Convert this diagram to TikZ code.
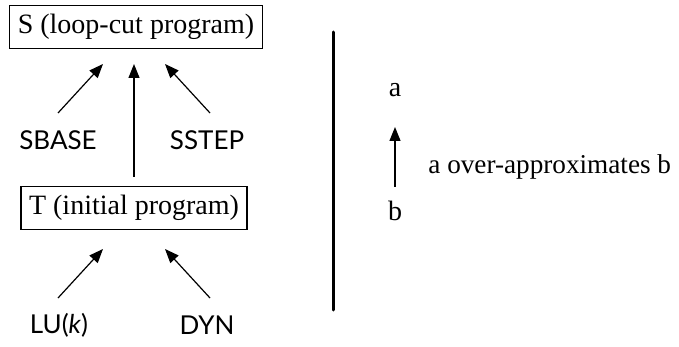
\documentclass[tikz,border=0pt]{standalone}
\usepackage{fontspec}
\setmainfont{Liberation Serif}
\newfontfamily\rulefont{Lato}
\usetikzlibrary{arrows.meta}

\begin{document}
\begin{tikzpicture}[x=0.5pt, y=-0.5pt, font=\fontsize{14}{16}\selectfont,
    prog/.style={draw, line width=0.6pt, inner xsep=4pt, inner ysep=4.5pt},
    rule/.style={font=\fontsize{13}{15}\selectfont\rulefont},
    approx/.style={-{Triangle[length=7pt, width=5.5pt]}, line width=0.6pt}]
  \useasboundingbox (0,0) rectangle (679,347);
  % programs
  \node[prog] (S) at (136,27) {S (loop-cut program)};
  \node[prog] (T) at (134,208) {T (initial program)};
  % rules
  \node[rule] (sbase) at (58,140) {SBASE};
  \node[rule] (sstep) at (207,140) {SSTEP};
  \node[rule] (lu) at (59,325) {LU(\textit{k})};
  \node[rule] (dyn) at (207,325) {DYN};
  \coordinate (sbaseend) at (58,113);
  \coordinate (sstepend) at (210,113);
  \coordinate (luend) at (58,298);
  \coordinate (dynend) at (210,298);
  \coordinate (sbasetip) at (103,64);
  \coordinate (ssteptip) at (165,64);
  \coordinate (lutip) at (103,249);
  \coordinate (dyntip) at (165,249);
  \draw[approx] (sbaseend) -- (sbasetip);
  \draw[approx] (sstepend) -- (ssteptip);
  \draw[approx] (T.north |- 0,177) -- (T.north |- sbasetip);
  \draw[approx] (luend) -- (lutip);
  \draw[approx] (dynend) -- (dyntip);
  % separator
  \coordinate (sepa) at (333,32);
  \coordinate (sepb) at (333,310);
  \draw[line width=1.5pt, line cap=round] (sepa) -- (sepb);
  % legend
  \node (a) at (395,90) {a};
  \node (b) at (395,211) {b};
  \draw[approx] (b) ++(0,-24) coordinate (bend) -- (bend |- 0,127);
  \node[anchor=west, inner sep=0pt, font=\fontsize{13.6}{16}\selectfont] (legend) at (428,167) {a over-approximates b};
\end{tikzpicture}
\end{document}
